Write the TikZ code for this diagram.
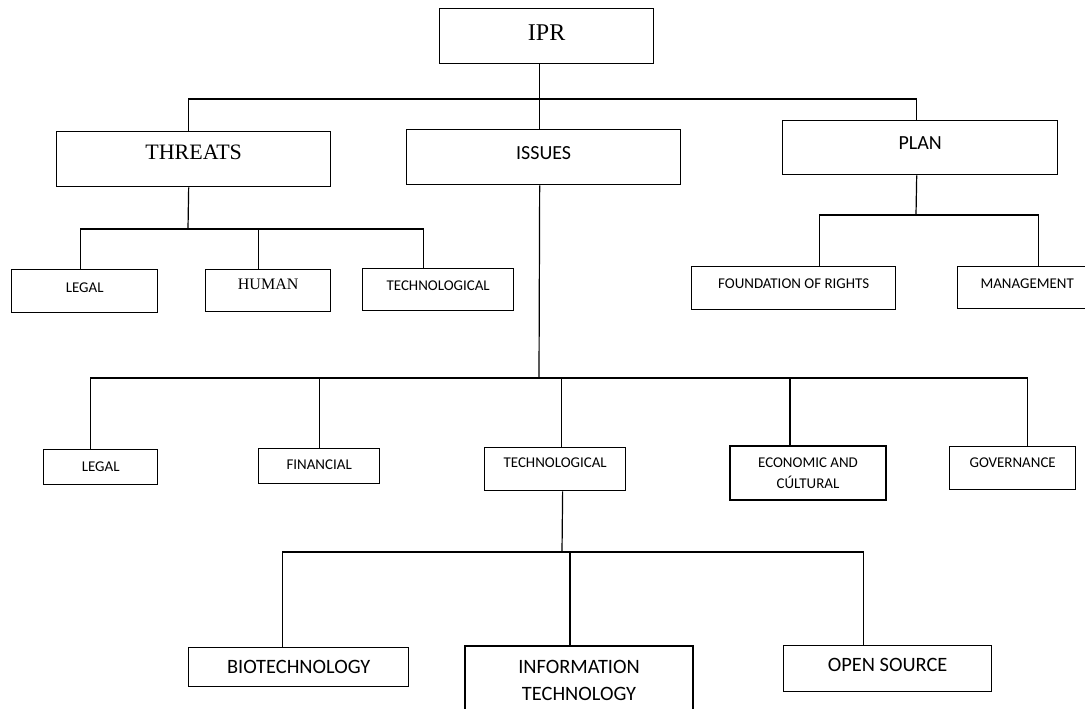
\documentclass[tikz,border=0pt]{standalone}
\usepackage{fontspec}
\setmainfont{Liberation Serif}
\newfontfamily\calfont{Carlito}
\begin{document}
\begin{tikzpicture}[x=0.75pt,y=-0.75pt,
  box/.style={draw=black,line width=1pt,inner xsep=0pt,inner ysep=0pt,anchor=north west},
  serifL/.style={font=\fontsize{18pt}{20pt}\selectfont},
  serifM/.style={font=\fontsize{16.5pt}{18pt}\selectfont},
  serifS/.style={font=\fontsize{12pt}{14pt}\selectfont},
  sansL/.style={font=\calfont\fontsize{15pt}{17pt}\selectfont},
  sansS/.style={font=\calfont\fontsize{11.2pt}{15.75pt}\selectfont},
  sansB/.style={font=\calfont\fontsize{15.3pt}{20.25pt}\selectfont},
  conn/.style={draw=black,line width=0.9pt}]
\useasboundingbox[fill=white] (0,0) rectangle (1085,708);
\clip (0,0) rectangle (1085,708);

% level 0 and 1
\node[box,serifL,minimum width=160.5pt,text height=24pt,text depth=17.25pt] (ipr) at (439,8) {IPR};
\node[box,serifM,minimum width=205.5pt,text height=20.5pt,text depth=20.8pt] (threats) at (56,131) {THREATS};
\node[box,sansL,minimum width=205.5pt,text height=22.05pt,text depth=19.2pt] (issues) at (406,129) {ISSUES};
\node[box,sansL,minimum width=206.25pt,text height=21.3pt,text depth=19.2pt] (plan) at (782,120) {PLAN};

% threats children
\node[box,sansS,minimum width=109.5pt,text height=17pt,text depth=15.2pt] (legalA) at (11,269) {LEGAL};
\node[box,serifS,minimum width=93.75pt,text height=14.5pt,text depth=17pt] (human) at (205,269) {HUMAN};
\node[box,sansS,minimum width=113.25pt,text height=16.3pt,text depth=15.2pt] (techA) at (362,268) {TECHNOLOGICAL};

% plan children
\node[box,sansS,minimum width=153pt,text height=16.3pt,text depth=16pt] (found) at (691,266) {FOUNDATION OF RIGHTS};
\node[box,sansS,minimum width=104.25pt,text height=16.3pt,text depth=15.2pt] (mgmt) at (957,266) {MANAGEMENT};

% issues children
\node[box,sansS,minimum width=85.5pt,text height=16.3pt,text depth=10pt] (legalB) at (43,449) {LEGAL};
\node[box,sansS,minimum width=90.75pt,text height=15.5pt,text depth=10.7pt] (fin) at (258,448) {FINANCIAL};
\node[box,sansS,minimum width=105.75pt,text height=14.8pt,text depth=17.5pt] (techB) at (484,447) {TECHNOLOGICAL};
\node[box,sansS,anchor=center,align=center,minimum width=117pt,minimum height=40.5pt] (econ) at (808,473) {ECONOMIC AND\\CÚLTURAL};
\node[box,sansS,minimum width=94.5pt,text height=15.5pt,text depth=16.7pt] (gov) at (949,446) {GOVERNANCE};

% technological children
\node[box,sansB,minimum width=165pt,text height=19.7pt,text depth=9.5pt] (bio) at (188,647) {BIOTECHNOLOGY};
\node[box,sansB,anchor=center,align=center,minimum width=171pt,minimum height=51.75pt] (it) at (579,680.5) {INFORMATION\\TECHNOLOGY};
\node[box,sansB,minimum width=156pt,text height=19.7pt,text depth=14.8pt] (open) at (783,645) {OPEN SOURCE};

% bus coordinates
\coordinate (b1) at (539,99);
\coordinate (b3) at (188,229);
\coordinate (b4) at (916,215);
\coordinate (b2) at (539,378);
\coordinate (b5) at (562,552);

% connectors level 1
\draw[conn] ([xshift=-5.25pt]ipr.south) -- ([xshift=-3pt]issues.north);
\draw[conn] ([xshift=-3.75pt]threats.north) |- (b1) -| ([xshift=-2.6pt]plan.north);

% threats
\draw[conn] ([xshift=-3.75pt]threats.south) -- (b3);
\draw[conn] ([xshift=-3pt]legalA.north) |- (b3) -| ([xshift=-10.9pt]techA.north);
\draw[conn] ([xshift=-7.1pt]human.north) -- ([xshift=-7.1pt]human.north |- b3);

% plan
\draw[conn] ([xshift=-2.6pt]plan.south) -- (b4);
\draw[conn] ([xshift=19.5pt]found.north) |- (b4) -| ([xshift=8.6pt]mgmt.north);

% issues
\draw[conn] ([xshift=-3pt]issues.south) -- (b2);
\draw[conn] ([xshift=-7.5pt]legalB.north) |- (b2) -| ([xshift=11.25pt]gov.north);
\draw[conn] ([xshift=0.4pt]fin.north) -- ([xshift=0.4pt]fin.north |- b2);
\draw[conn] ([xshift=4.9pt]techB.north) -- ([xshift=4.9pt]techB.north |- b2);
\draw[conn] ([xshift=-13.5pt]econ.north) -- ([xshift=-13.5pt]econ.north |- b2);

% technological
\draw[conn] ([xshift=5.6pt]techB.south) -- (b5);
\draw[conn] ([xshift=-12pt]bio.north) |- (b5) -| ([xshift=-18pt]open.north);
\draw[conn] ([xshift=-6.75pt]it.north) -- ([xshift=-6.75pt]it.north |- b5);
\end{tikzpicture}
\end{document}
